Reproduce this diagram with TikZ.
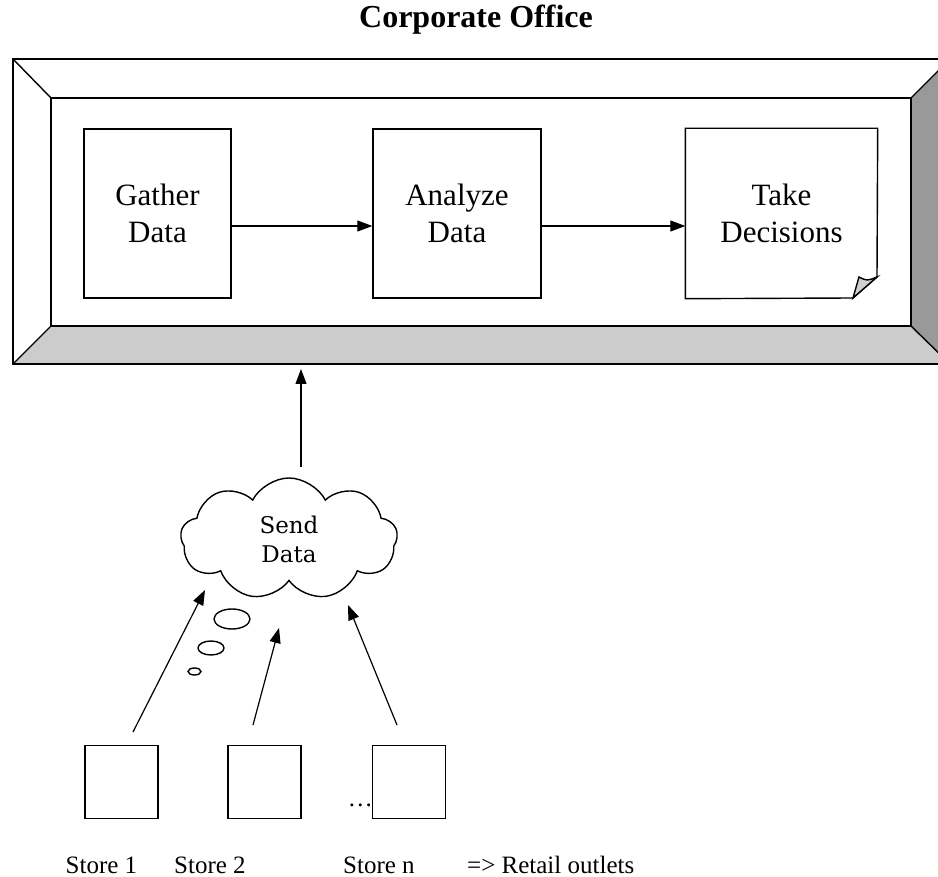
\documentclass[tikz,border=0pt]{standalone}
\usepackage{fontspec}
\setmainfont{Liberation Serif}
\newfontfamily\cloudfont{DejaVu Serif}
\usetikzlibrary{shapes.symbols,arrows.meta}
\definecolor{bevdark}{HTML}{999999}
\definecolor{bevlight}{HTML}{CCCCCC}
\definecolor{foldgray}{HTML}{D0D0D0}
\begin{document}
\begin{tikzpicture}[x=1pt,y=-1pt,
 lw/.style={line width=1.4pt},
 procbox/.style={draw,lw,minimum height=169pt,inner sep=0pt,align=center,font=\fontsize{31}{37}\selectfont},
 storebox/.style={draw,lw,minimum size=73pt,inner sep=0pt},
 arr/.style={line width=1.2pt,-{Triangle[length=15pt,width=11pt]}},
 lbl/.style={font=\fontsize{25}{30}\selectfont,anchor=base west,inner sep=0pt}]
\clip (0,0) rectangle (938,877);
% frame bevels
\fill[bevdark] (911,98) -- (950,59) -- (950,364) -- (911,326) -- cycle;
\fill[bevlight] (51,326) -- (911,326) -- (950,364) -- (13,364) -- cycle;
\draw[lw] (13,59) rectangle (950,364);
\draw[lw] (51,98) rectangle (911,326);
\draw[lw] (13,59) -- (51,98);
\draw[lw] (950,59) -- (911,98);
\draw[lw] (13,364) -- (51,326);
\draw[lw] (950,364) -- (911,326);
% title
\node[font=\bfseries\fontsize{32}{38}\selectfont] (title) at (476,20) {Corporate Office};
% process boxes
\node[procbox,minimum width=147pt] (gather) at (157.5,213.5) {Gather\\Data};
\node[procbox,minimum width=168pt] (analyze) at (457,213.5) {Analyze\\Data};
\node[procbox,draw=none,minimum width=191pt] (take) at (781.5,213.5) {Take\\Decisions};
\draw[lw] (take.south west) -- (853,298) -- (877,277) -- (take.north east) -- (take.north west) -- cycle;
\filldraw[lw,fill=foldgray] (853,298) -- (859,277) .. controls (867,281) .. (877,277) -- cycle;
\draw[arr] ([yshift=-12.5pt]gather.east) -- ([yshift=-12.5pt]analyze.west);
\draw[arr] ([yshift=-12.5pt]analyze.east) -- ([yshift=-12.5pt]take.west);
% cloud
\node[cloud,draw,lw,cloud puffs=9,cloud puff arc=125,aspect=1.78,minimum width=217pt,minimum height=122pt,inner sep=0pt,align=center,font=\cloudfont\fontsize{23}{29}\selectfont] (cloud) at (289,539) {Send\\Data};
\coordinate (sendtop) at (301,467);
\coordinate (officebot) at (301,369);
\draw[arr] (sendtop) -- (officebot);
% thought bubbles
\draw[lw] (232,619) ellipse [x radius=18, y radius=10];
\draw[lw] (211,648) ellipse [x radius=13, y radius=7];
\draw[lw] (194.5,671.5) ellipse [x radius=6.5, y radius=3.5];
% stores
\node[storebox] (store1) at (121.5,782) {};
\node[storebox] (store2) at (264.5,782) {};
\node[storebox] (storen) at (409,782) {};
\node[font=\fontsize{25}{30}\selectfont,anchor=base east,inner sep=0pt] (dots) at (373,806) {…};
\coordinate (a1s) at (133,732);
\coordinate (a1e) at (205,590);
\coordinate (a2s) at (253,725);
\coordinate (a2e) at (279,628);
\coordinate (a3s) at (397,725);
\coordinate (a3e) at (348,605);
\draw[arr] (a1s) -- (a1e);
\draw[arr] (a2s) -- (a2e);
\draw[arr] (a3s) -- (a3e);
% labels
\node[lbl] (l1) at (65.5,873) {Store 1};
\node[lbl] (l2) at (174,873) {Store 2};
\node[lbl] (ln) at (343,873) {Store n};
\node[lbl] (lr) at (467,873) {=> Retail outlets};
\end{tikzpicture}
\end{document}
